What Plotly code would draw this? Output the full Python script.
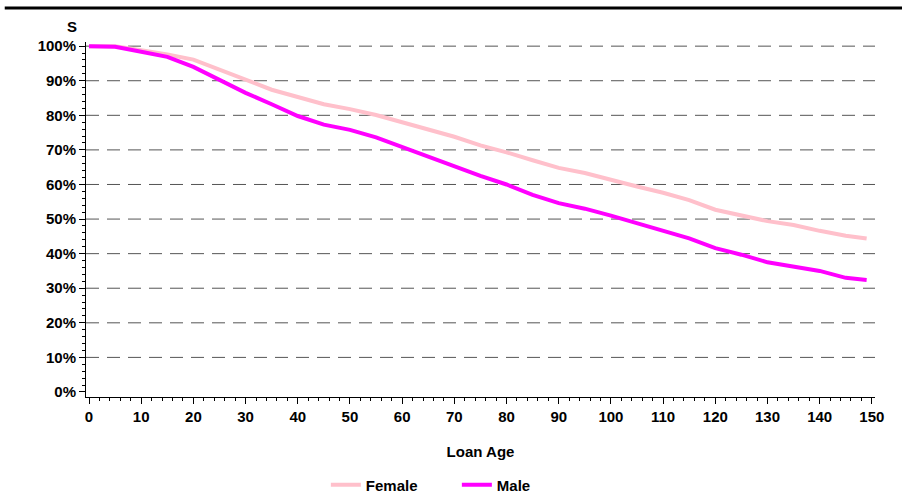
import plotly.graph_objects as go

loan_age = [0, 5, 10, 15, 20, 25, 30, 35, 40, 45, 50, 55, 60, 65, 70, 75, 80,
            85, 90, 95, 100, 105, 110, 115, 120, 125, 130, 135, 140, 145, 149]
female = [100, 100, 98.8, 97.6, 96.1, 93.2, 90.3, 87.4, 85.3, 83.2, 81.8, 80.1,
          78.0, 76.0, 73.8, 71.3, 69.3, 67.0, 64.8, 63.3, 61.2, 59.4, 57.6, 55.5,
          52.7, 51.1, 49.4, 48.3, 46.6, 45.2, 44.4]
male = [100, 99.8, 98.4, 96.9, 94.0, 90.2, 86.5, 83.2, 79.8, 77.3, 75.8, 73.6,
        70.8, 68.0, 65.2, 62.5, 60.0, 57.0, 54.6, 53.0, 51.0, 48.8, 46.5, 44.4,
        41.6, 39.7, 37.5, 36.3, 35.0, 33.0, 32.4]

x_ticks = list(range(0, 151, 10))
y_ticks = [i / 10 for i in range(0, 11)]

FONT = "Liberation Sans, Arial, sans-serif"

fig = go.Figure()
fig.add_trace(go.Scatter(x=loan_age, y=[v / 100 for v in female], mode="lines",
                         name="Female", line=dict(color="#FFC0CB", width=4)))
fig.add_trace(go.Scatter(x=loan_age, y=[v / 100 for v in male], mode="lines",
                         name="Male", line=dict(color="#FF00FF", width=4)))

fig.update_layout(
    width=902, height=493,
    margin=dict(l=86, r=27, t=42, b=96, autoexpand=False),
    paper_bgcolor="white", plot_bgcolor="white",
    font=dict(family=FONT, size=15, color="black", weight="bold"),
    showlegend=True,
    legend=dict(orientation="h", x=0.304, xanchor="left", y=-0.248, yanchor="middle",
                font=dict(size=15, weight="bold"), entrywidth=86, entrywidthmode="pixels",
                bgcolor="rgba(0,0,0,0)"),
    xaxis=dict(range=[-0.575, 150.6], tickvals=x_ticks, ticks="outside", ticklen=6,
               tickwidth=1, tickcolor="black", showline=True, linecolor="black",
               linewidth=1, showgrid=False, zeroline=False, automargin=False,
               minor=dict(dtick=2, ticks="outside", ticklen=3, tickcolor="black", showgrid=False),
               title=dict(text="Loan Age", standoff=22, font=dict(size=15, weight="bold")),
               tickfont=dict(size=15, weight="bold")),
    yaxis=dict(range=[-0.0145, 1.012], tickvals=y_ticks, tickformat=".0%",
               ticks="outside", ticklen=6, tickwidth=1, tickcolor="black",
               showline=True, linecolor="black", linewidth=1, automargin=False,
               showgrid=False, zeroline=False,
               minor=dict(dtick=0.02, ticks="outside", ticklen=3, tickcolor="black", showgrid=False),
               tickfont=dict(size=15, weight="bold")),
    annotations=[dict(text="S", xref="paper", yref="paper", x=-0.018, y=1.045,
                      xanchor="center", yanchor="middle", showarrow=False,
                      font=dict(size=15, weight="bold"))],
)

# dashed reference lines at every non-zero y tick
for yv in y_ticks[1:]:
    fig.add_shape(type="line", xref="paper", yref="y", x0=0, x1=1, y0=yv, y1=yv,
                  line=dict(color="#555555", width=1, dash="13px,8px"), layer="below")

# heavy rule across the top of the page
fig.add_shape(type="line", xref="paper", yref="paper", x0=-0.103, x1=1.04,
              y0=1.0958, y1=1.0958, line=dict(color="black", width=3))

fig.write_html("out.html")
